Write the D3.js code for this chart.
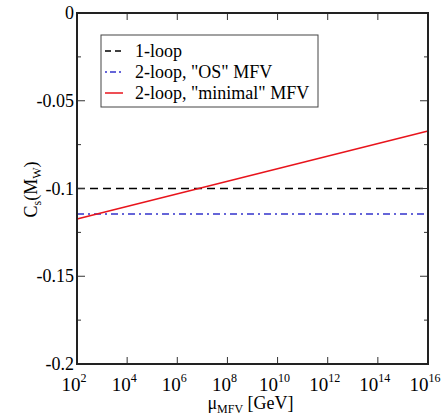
<!DOCTYPE html>
<html>
<head>
<meta charset="utf-8">
<script src="https://cdn.jsdelivr.net/npm/d3@7"></script>
</head>
<body style="margin:0; background:#fff">
<div id="chart"></div>
<script>
// data
var muValues = [1e2, 1e16];
var oneLoop = [-0.1, -0.1];
var osMFV = [-0.1145, -0.1145];
var minimalMFV = [-0.1174, -0.0672];
var xTickExps = [2, 4, 6, 8, 10, 12, 14, 16];
var yMajorTicks = [0, -0.05, -0.1, -0.15, -0.2];
var yTickLabels = ["0", "-0.05", "-0.1", "-0.15", "-0.2"];
var yMinorTicks = [-0.025, -0.075, -0.125, -0.175];
var legendLabels = ['1-loop', '2-loop, "OS" MFV', '2-loop, "minimal" MFV'];

var FONT = "'Liberation Serif', 'Times New Roman', serif";

var margin = { top: 13, right: 17, bottom: 51, left: 77 },
  width = 445 - margin.left - margin.right,
  height = 415 - margin.top - margin.bottom;

var svg = d3
  .select("#chart")
  .append("svg")
  .attr("width", width + margin.left + margin.right)
  .attr("height", height + margin.top + margin.bottom)
  .append("g")
  .attr("transform", "translate(" + margin.left + "," + margin.top + ")");

var x = d3.scaleLog().domain([1e2, 1e16]).range([0, width]);
var y = d3.scaleLinear().domain([-0.2, 0]).range([height, 0]);

var series = [
  { name: legendLabels[0], values: oneLoop, color: "#000", dash: "8,5", width: 1.6 },
  { name: legendLabels[1], values: osMFV, color: "#3333cc", dash: "7,4,2,4", width: 1.4 },
  { name: legendLabels[2], values: minimalMFV, color: "#e8141c", dash: null, width: 1.5 }
];

var line = d3
  .line()
  .x(function (d) { return x(d[0]); })
  .y(function (d) { return y(d[1]); });

series.forEach(function (s) {
  svg
    .append("path")
    .datum(muValues.map(function (m, i) { return [m, s.values[i]]; }))
    .attr("fill", "none")
    .attr("stroke", s.color)
    .attr("stroke-width", s.width)
    .attr("stroke-dasharray", s.dash)
    .attr("d", line);
});

// ticks (inward, on all four sides)
var tickColor = "#333";
xTickExps.forEach(function (e) {
  var xp = x(Math.pow(10, e));
  if (e > 2 && e < 16) {
    svg.append("line").attr("x1", xp).attr("x2", xp).attr("y1", height).attr("y2", height - 7)
      .attr("stroke", tickColor).attr("stroke-width", 1);
    svg.append("line").attr("x1", xp).attr("x2", xp).attr("y1", 0).attr("y2", 7)
      .attr("stroke", tickColor).attr("stroke-width", 1);
  }
  var t = svg.append("text")
    .attr("x", xp - 3)
    .attr("y", height + 27)
    .attr("text-anchor", "middle")
    .style("font-family", FONT)
    .style("font-size", "19px");
  t.append("tspan").text("10");
  t.append("tspan").attr("dy", -9).style("font-size", "12px").text(e);
});

yMajorTicks.forEach(function (v, i) {
  var yp = y(v);
  if (v > -0.2 && v < 0) {
    svg.append("line").attr("x1", 0).attr("x2", 8).attr("y1", yp).attr("y2", yp)
      .attr("stroke", tickColor).attr("stroke-width", 1);
    svg.append("line").attr("x1", width).attr("x2", width - 8).attr("y1", yp).attr("y2", yp)
      .attr("stroke", tickColor).attr("stroke-width", 1);
  }
  svg.append("text")
    .attr("x", -3)
    .attr("y", yp + 6)
    .attr("text-anchor", "end")
    .style("font-family", FONT)
    .style("font-size", "18px")
    .text(yTickLabels[i]);
});

yMinorTicks.forEach(function (v) {
  var yp = y(v);
  svg.append("line").attr("x1", 0).attr("x2", 4).attr("y1", yp).attr("y2", yp)
    .attr("stroke", tickColor).attr("stroke-width", 1);
  svg.append("line").attr("x1", width).attr("x2", width - 4).attr("y1", yp).attr("y2", yp)
    .attr("stroke", tickColor).attr("stroke-width", 1);
});

// frame
svg.append("rect")
  .attr("x", 0).attr("y", 0).attr("width", width).attr("height", height)
  .attr("fill", "none").attr("stroke", "#222").attr("stroke-width", 2);

// legend
var lg = svg.append("g").attr("transform", "translate(24,22)");
lg.append("rect")
  .attr("x", 0).attr("y", 0).attr("width", 217).attr("height", 72)
  .attr("fill", "#fff").attr("stroke", "#444").attr("stroke-width", 1);
series.forEach(function (s, i) {
  var ly = 16 + i * 21;
  lg.append("line")
    .attr("x1", 4).attr("x2", 22).attr("y1", ly).attr("y2", ly)
    .attr("stroke", s.color).attr("stroke-width", s.width)
    .attr("stroke-dasharray", i === 0 ? "6,4" : i === 1 ? "2,3,6,3" : null);
  lg.append("text")
    .attr("x", 34).attr("y", ly + 6)
    .style("font-family", FONT)
    .style("font-size", "18px")
    .text(s.name);
});

// axis titles
var yl = svg.append("text")
  .attr("transform", "translate(-40," + (height / 2 + 1) + ") rotate(-90)")
  .attr("text-anchor", "middle")
  .style("font-family", FONT)
  .style("font-size", "18px");
yl.append("tspan").text("C");
yl.append("tspan").attr("dy", 4).style("font-size", "12px").text("s");
yl.append("tspan").attr("dy", -4).text("(M");
yl.append("tspan").attr("dy", 4).style("font-size", "12px").text("W");
yl.append("tspan").attr("dy", -4).text(")");

var xl = svg.append("text")
  .attr("x", width / 2 - 2)
  .attr("y", height + 45)
  .attr("text-anchor", "middle")
  .style("font-family", FONT)
  .style("font-size", "18px");
xl.append("tspan").text("\u03bc");
xl.append("tspan").attr("dy", 4).style("font-size", "12px").text("MFV");
xl.append("tspan").attr("dy", -4).text(" [GeV]");
</script>
</body>
</html>
